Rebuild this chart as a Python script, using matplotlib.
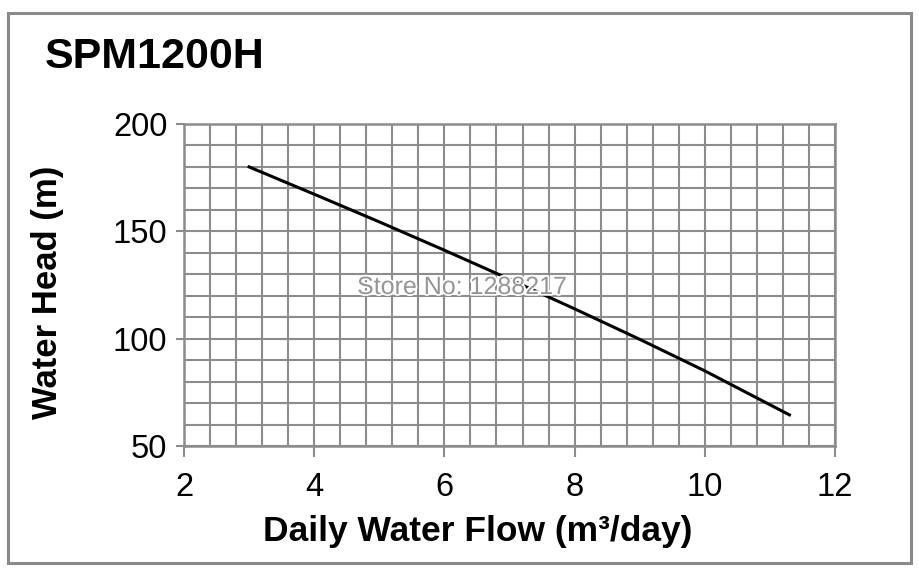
import matplotlib
matplotlib.use('agg')
import matplotlib.pyplot as plt
from matplotlib.ticker import MultipleLocator
from matplotlib.patches import Rectangle
import matplotlib.patheffects as pe

plt.rcParams['font.family'] = ['Liberation Sans', 'DejaVu Sans']

# curve
flow = [3.0, 4.0, 5.0, 6.0, 7.0, 8.0, 9.0, 10.0, 11.3]
head = [180.0, 167.3, 154.4, 141.2, 127.7, 113.9, 99.7, 85.0, 64.5]

x_ticks = [2, 4, 6, 8, 10, 12]
y_ticks = [50, 100, 150, 200]

title = 'SPM1200H'
xlabel = 'Daily Water Flow (m\u00b3/day)'
ylabel = 'Water Head (m)'
watermark = 'Store No: 1288217'

grid_col = '#8c8c8c'
W, H = 920, 573

fig = plt.figure(figsize=(9.2, 5.73), dpi=100)
ax = fig.add_axes([184/W, 1 - 446/H, (835 - 184)/W, (446 - 124)/H])

ax.plot(flow, head, color='black', lw=2.2, zorder=3)

ax.set_xlim(2, 12)
ax.set_ylim(50, 200)
ax.set_xticks(x_ticks)
ax.set_yticks(y_ticks)
ax.xaxis.set_minor_locator(MultipleLocator(0.4))
ax.yaxis.set_minor_locator(MultipleLocator(10))
ax.grid(which='both', color=grid_col, lw=1.5)
ax.set_axisbelow(True)

for s in ax.spines.values():
    s.set_color(grid_col)
    s.set_linewidth(1.8)

ax.tick_params(axis='x', which='major', length=8, width=1.5, color=grid_col,
               pad=11, labelsize=23.5)
ax.tick_params(axis='y', which='major', length=6, width=1.5, color=grid_col,
               pad=6, labelsize=23.5)
ax.tick_params(which='minor', length=0)

fig.text(478/W, 1 - 531/H, xlabel, fontsize=25.5, fontweight='bold',
         ha='center', va='center')
fig.text(48/W, 1 - 292/H, ylabel, fontsize=25, fontweight='bold',
         ha='center', va='center', rotation=90)

fig.text(45/W, 1 - 57/H, title, fontsize=31, fontweight='bold',
         ha='left', va='center')

fig.text(462/W, 1 - 287/H, watermark, fontsize=18, color='#959595',
         ha='center', va='center', zorder=5,
         path_effects=[pe.withStroke(linewidth=2.5, foreground='white')])

# outer frame of the picture
fig.patches.append(Rectangle((8/W, 1 - 563/H), (911 - 8)/W, (563 - 13)/H,
                             transform=fig.transFigure, fill=False,
                             edgecolor='#8a8a8a', lw=2.2))

fig.savefig('out.png', dpi=100)
